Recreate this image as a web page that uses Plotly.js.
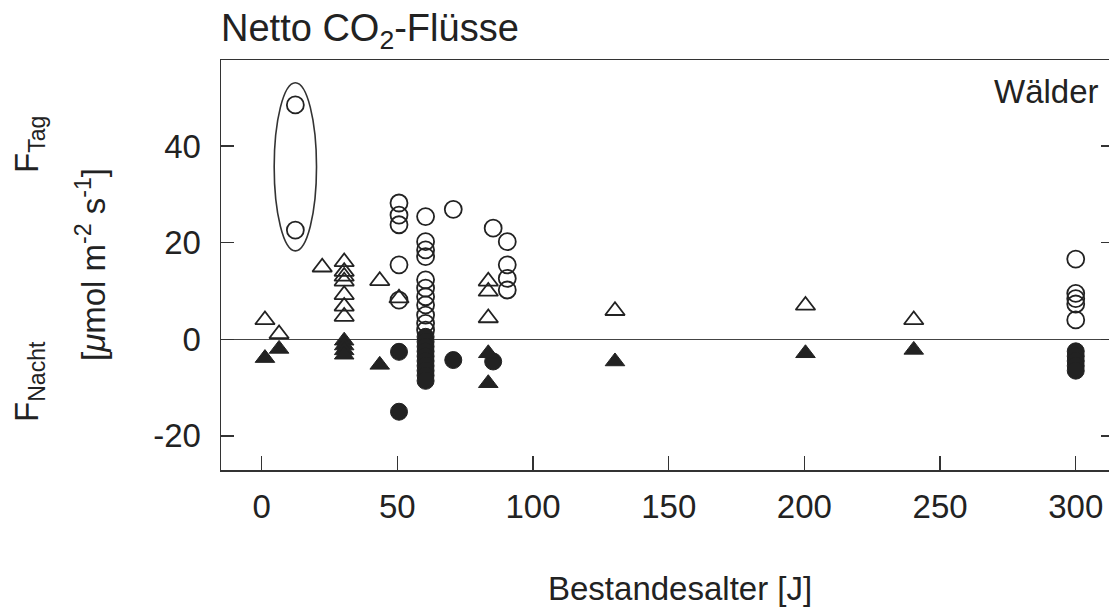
<!DOCTYPE html>
<html>
<head>
<meta charset="utf-8">
<script src="https://cdn.plot.ly/plotly-3.0.1.min.js"></script>
<style>
  html, body { margin: 0; padding: 0; overflow: hidden; background: #fff; }
  #chart { width: 1140px; height: 609px; }
</style>
</head>
<body>
<div id="chart"></div>
<script>
// Tag (day) fluxes, open markers
const dayCircleX = [12.4, 12.4, 50.6, 50.6, 50.6, 50.6, 50.6,
  60.4, 60.4, 60.4, 60.4, 60.4, 60.4, 60.4, 60.4, 60.4, 60.4, 60.4,
  70.6, 85.3, 90.5, 90.5, 90.5, 90.5, 300, 300, 300, 300, 300];
const dayCircleY = [48.5, 22.6, 28.2, 25.7, 23.7, 15.4, 8.1,
  25.4, 20.2, 18.5, 17.1, 12.3, 10.6, 8.8, 7.1, 5.0, 3.3, 1.9,
  26.9, 23.0, 20.2, 15.4, 12.6, 10.2, 16.6, 9.5, 8.4, 7.3, 4.0];

const dayTriX = [1.2, 6.4, 22.3, 30.4, 30.4, 30.4, 30.4, 30.4, 30.4, 30.4,
  43.5, 50.6, 83.5, 83.5, 83.5, 130.2, 200.4, 240.3];
const dayTriY = [4.0, 1.1, 14.9, 16.0, 14.0, 13.0, 12.0, 9.2, 6.8, 4.7,
  12.1, 8.5, 12.0, 9.9, 4.4, 5.9, 7.0, 4.0];

// Nacht (night) fluxes, filled markers
const nightCircleX = [50.6, 50.6, 60.4, 60.4, 60.4, 60.4, 60.4, 60.4, 60.4, 60.4, 60.4, 60.4,
  70.6, 85.3, 300, 300, 300, 300, 300];
const nightCircleY = [-2.6, -15.0, 0.5, -0.5, -1.5, -2.5, -3.5, -4.5, -5.5, -6.5, -7.5, -8.6,
  -4.3, -4.6, -2.5, -3.5, -4.5, -5.5, -6.5];

const nightTriX = [1.2, 6.4, 30.4, 30.4, 30.4, 30.4, 43.5, 83.5, 83.5, 130.2, 200.4, 240.3];
const nightTriY = [-3.9, -2.0, -0.3, -1.3, -2.3, -3.2, -5.3, -2.9, -9.1, -4.6, -2.9, -2.2];

// the two circled points (highlighted by the ellipse)
const circledX = [12.4, 12.4];
const circledY = [48.5, 22.6];

const xTicks = [0, 50, 100, 150, 200, 250, 300];
const yTicks = [-20, 0, 20, 40];

const ink = '#222';
const font = '"Liberation Sans", Arial, Helvetica, sans-serif';
const fs = 33;

const traces = [
  { x: dayCircleX, y: dayCircleY, type: 'scatter', mode: 'markers', name: 'F Tag (Kreis)',
    marker: { symbol: 'circle-open', size: 17, color: ink, line: { width: 1.8, color: ink } } },
  { x: nightCircleX, y: nightCircleY, type: 'scatter', mode: 'markers', name: 'F Nacht (Kreis)',
    marker: { symbol: 'circle', size: 17, color: ink, line: { width: 1, color: ink } } },
  { x: dayTriX, y: dayTriY, type: 'scatter', mode: 'markers', name: 'F Tag (Dreieck)',
    marker: { symbol: 'triangle-up-open', size: 17, color: ink, line: { width: 1.8, color: ink } } },
  { x: nightTriX, y: nightTriY, type: 'scatter', mode: 'markers', name: 'F Nacht (Dreieck)',
    marker: { symbol: 'triangle-up', size: 17, color: ink, line: { width: 1, color: ink } } }
];

const cx = circledX[0];
const layout = {
  width: 1140, height: 609,
  margin: { l: 221, r: 26, t: 60, b: 139 },
  paper_bgcolor: '#fff', plot_bgcolor: '#fff',
  showlegend: false,
  font: { family: font, size: fs, color: ink },
  title: { text: 'Netto CO<sub>2</sub>-Flüsse', font: { family: font, size: 38, color: ink },
    xref: 'container', yref: 'container', x: 221 / 1140, xanchor: 'left', y: 1 - 28 / 609, yanchor: 'middle' },
  xaxis: {
    range: [-15, 314.1], tickvals: xTicks, ticktext: xTicks.map(String),
    ticks: 'inside', ticklen: 14, tickwidth: 1.5, tickcolor: '#333',
    showline: true, linecolor: '#333', linewidth: 1.5, mirror: true,
    showgrid: false, zeroline: false,
    tickfont: { family: font, size: fs, color: ink }, ticklabelstandoff: 7
  },
  yaxis: {
    range: [-27.06, 57.8], tickvals: yTicks, ticktext: yTicks.map(String),
    ticks: 'inside', ticklen: 13, tickwidth: 1.5, tickcolor: '#333',
    showline: true, linecolor: '#333', linewidth: 1.5, mirror: 'ticks',
    showgrid: false, zeroline: true, zerolinecolor: '#444', zerolinewidth: 1.5,
    tickfont: { family: font, size: fs, color: ink }, ticklabelstandoff: 12
  },
  shapes: [
    { type: 'circle', xref: 'x', yref: 'y',
      x0: cx - 7.8, x1: cx + 7.8,
      y0: Math.min(...circledY) - 4.3, y1: Math.max(...circledY) + 4.6,
      line: { color: '#333', width: 1.6 }, fillcolor: 'rgba(0,0,0,0)' }
  ],
  annotations: [
    { text: 'Wälder', xref: 'paper', yref: 'paper', x: (1101 - 221) / 893, y: (470 - 92) / 410,
      xanchor: 'right', yanchor: 'middle', showarrow: false, font: { family: font, size: fs, color: ink } },
    { text: 'Bestandesalter [J]', xref: 'paper', yref: 'paper', x: (680 - 221) / 893, y: (470 - 588) / 410,
      xanchor: 'center', yanchor: 'middle', showarrow: false, font: { family: font, size: fs, color: ink } },
    { text: '[<i>μ</i>mol m<sup>-2</sup> s<sup>-1</sup>]', xref: 'paper', yref: 'paper',
      x: (91 - 221) / 893, y: (470 - 265) / 410, xanchor: 'center', yanchor: 'middle', textangle: -90,
      showarrow: false, font: { family: font, size: fs, color: ink } },
    { text: 'F<sub>Tag</sub>', xref: 'paper', yref: 'paper',
      x: (29 - 221) / 893, y: (470 - 145) / 410, xanchor: 'center', yanchor: 'middle', textangle: -90,
      showarrow: false, font: { family: font, size: fs, color: ink } },
    { text: 'F<sub>Nacht</sub>', xref: 'paper', yref: 'paper',
      x: (29 - 221) / 893, y: (470 - 382) / 410, xanchor: 'center', yanchor: 'middle', textangle: -90,
      showarrow: false, font: { family: font, size: fs, color: ink } }
  ]
};

Plotly.newPlot('chart', traces, layout, { displayModeBar: false, staticPlot: true });
</script>
</body>
</html>
